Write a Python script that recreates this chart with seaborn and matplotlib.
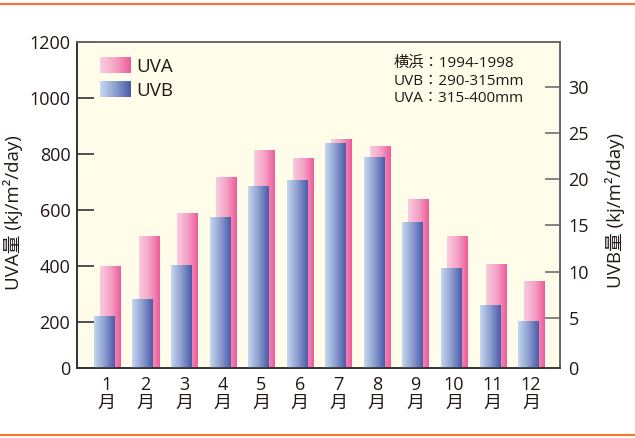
import matplotlib
matplotlib.use("Agg")  # headless rendering
import matplotlib.pyplot as plt
import seaborn as sns
import numpy as np
from matplotlib.colors import LinearSegmentedColormap
from matplotlib.legend_handler import HandlerBase
from matplotlib.patches import Patch, Rectangle
from matplotlib.lines import Line2D

# data
months = [f"{m}\n月" for m in range(1, 13)]
uva = [401, 508, 590, 719, 815, 787, 855, 830, 640, 508, 408, 347]
uvb = [5.1, 7.0, 10.7, 15.9, 19.2, 19.9, 23.9, 22.4, 15.3, 10.3, 6.3, 4.6]
uva_ticks = [200, 400, 600, 800, 1000, 1200]
uvb_ticks = [5, 10, 15, 20, 25, 30]
notes = ["横浜：1994-1998", "UVB：290-315mm", "UVA：315-400mm"]

# the original axes do not start exactly at zero; "0" sits on the baseline
UVA_LIM = (37, 1200)
UVB_LIM = (-0.46, 34.85)

TEXT = "#231815"
ORANGE = "#EF7B35"
pink = LinearSegmentedColormap.from_list("pink", ["#F9CCDF", "#F4A3C6", "#EE5A9A"])
blue = LinearSegmentedColormap.from_list("blue", ["#C6D7EF", "#8C9FD0", "#4A5AA8"])


class GradientHandler(HandlerBase):
    def __init__(self, cmap, n=40):
        super().__init__()
        self.cmap = cmap
        self.n = n

    def create_artists(self, legend, orig_handle, xdescent, ydescent,
                       width, height, fontsize, trans):
        arts = []
        for k in range(self.n):
            arts.append(Rectangle((-xdescent + width * k / self.n, -ydescent),
                                  width / self.n * 1.1, height,
                                  facecolor=self.cmap(k / (self.n - 1)),
                                  edgecolor="none", transform=trans))
        return arts


def gradient_bars(ax, cmap, shift, ylim):
    # replace seaborn's flat bars by horizontal gradients; bars rise from the baseline
    grad = np.linspace(0, 1, 256).reshape(1, -1)
    base = min(0, ylim[0])
    for p in list(ax.patches):
        p.set_x(p.get_x() + shift)
        x0, w, h = p.get_x(), p.get_width(), p.get_height()
        ax.imshow(grad, extent=[x0, x0 + w, base, h], aspect="auto",
                  cmap=cmap, zorder=2, interpolation="bilinear")
        p.set_visible(False)
    ax.set_ylim(*ylim)


sns.set_style("white")
plt.rcParams["font.family"] = ["Open Sans", "Noto Sans CJK JP"]

fig = plt.figure(figsize=(6.35, 4.38), dpi=100)
ax = fig.add_axes([0.1217, 0.1598, 0.7602, 0.7432])
ax2 = ax.twinx()

sns.barplot(x=months, y=uva, ax=ax, width=0.52, color="#EE5A9A", errorbar=None)
sns.barplot(x=months, y=uvb, ax=ax2, width=0.52, color="#4A5AA8", errorbar=None)
gradient_bars(ax, pink, 0.078, UVA_LIM)
gradient_bars(ax2, blue, -0.078, UVB_LIM)

ax.set_facecolor("#FFFCE9")
ax.set_xlim(-0.77, 11.75)

ax.set_yticks([UVA_LIM[0]] + uva_ticks, ["0"] + [str(t) for t in uva_ticks])
ax2.set_yticks([UVB_LIM[0]] + uvb_ticks, ["0"] + [str(t) for t in uvb_ticks])

ax.tick_params(axis="y", direction="in", length=12, width=1.2, color="#333333",
               pad=5, labelsize=13, labelcolor=TEXT)
ax2.tick_params(axis="y", direction="in", length=11, width=1.3, color="#7a7a7a",
                pad=6, labelsize=13, labelcolor=TEXT)
ax.tick_params(axis="x", length=0, pad=6, labelsize=13, labelcolor=TEXT)
for lab in ax.get_xticklabels():
    lab.set_linespacing(1.0)

for a in (ax, ax2):
    a.spines["left"].set_color("#333333")
    a.spines["bottom"].set_color("#333333")
    a.spines["top"].set_color("#666666")
    a.spines["right"].set_color("#666666")
    for s in a.spines.values():
        s.set_linewidth(1.2)

ax.set_xlabel("")
ax.set_ylabel("UVA量 (kj/m²/day)", fontsize=13.5, color=TEXT)
ax.yaxis.set_label_coords(-0.1125, 0.479)
ax2.set_ylabel("UVB量 (kj/m²/day)", fontsize=13.5, color=TEXT, rotation=90)
ax2.yaxis.set_label_coords(1.093, 0.485)

h_uva, h_uvb = Patch(), Patch()
ax2.legend([h_uva, h_uvb], ["UVA", "UVB"],
           handler_map={h_uva: GradientHandler(pink), h_uvb: GradientHandler(blue)},
           loc="upper left", bbox_to_anchor=(0.047, 0.955), frameon=False,
           borderpad=0, borderaxespad=0, fontsize=13.5, handlelength=1.65,
           handleheight=0.96, handletextpad=0.3, labelspacing=0.28,
           labelcolor=TEXT)

ax2.text(0.656, 0.958, "\n".join(notes), transform=ax2.transAxes, va="top",
         ha="left", fontsize=11, linespacing=1.22, color=TEXT)

# orange rules above and below the chart
for y in (1 - 4.3 / 438, 1 - 435 / 438):
    fig.add_artist(Line2D([0, 1], [y, y], transform=fig.transFigure,
                          color=ORANGE, lw=1.6))

fig.savefig("out.png", dpi=100)
plt.close(fig)
